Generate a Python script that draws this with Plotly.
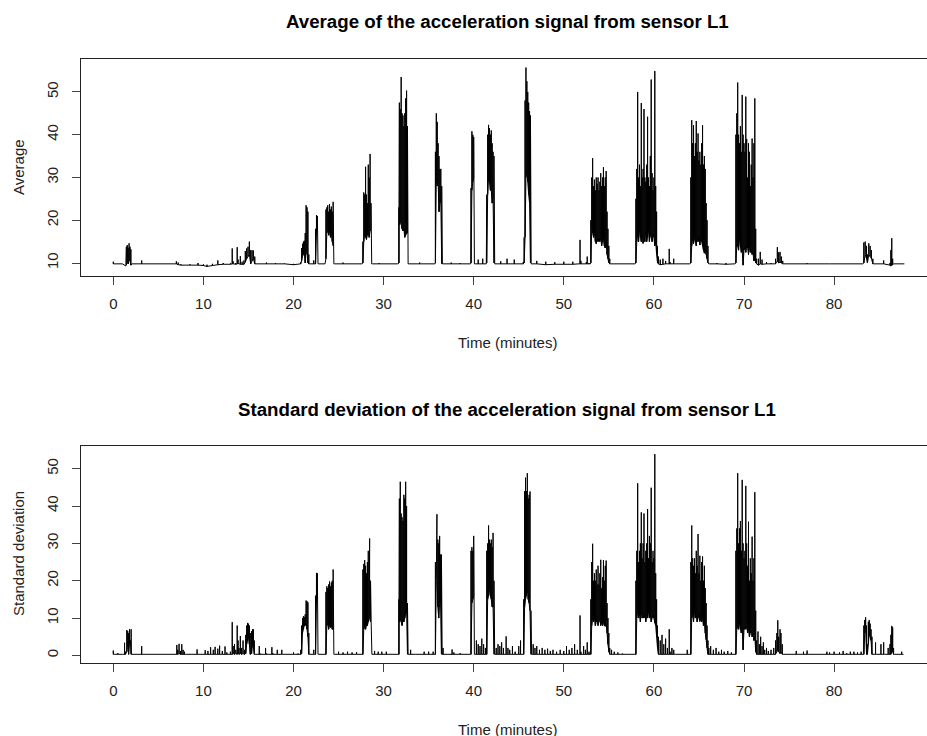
import plotly.graph_objects as go

# ---------------- data ----------------
# Average panel: time (minutes), lower and upper value of the signal at that instant
avg_t = [0.0, 0.3, 1.0, 1.4, 1.45, 1.55, 1.65, 1.75, 1.85, 1.95, 2.05, 3.0, 3.15, 3.3, 4.0,
         6.9, 7.0, 7.2, 7.5, 8.5, 9.4, 10.0, 10.4, 11.0, 11.6, 12.2, 13.0,
         13.2, 13.3, 13.6, 13.75, 13.85, 14.1, 14.3, 14.5, 14.65, 14.8, 14.95, 15.1, 15.25, 15.4, 15.55, 15.7, 15.85,
         17.0, 18.0, 19.0, 20.0, 20.8,
         20.9, 21.0, 21.1, 21.2, 21.3, 21.4, 21.5, 21.6, 21.7, 21.8, 22.25, 22.4,
         22.45, 22.55, 22.65, 22.72, 22.8, 23.5,
         23.6, 23.7, 23.8, 23.9, 24.0, 24.1, 24.2, 24.3, 24.4, 24.48, 24.55, 25.5, 26.5, 27.6,
         27.7, 27.8, 27.9, 28.0, 28.1, 28.2, 28.3, 28.4, 28.5, 28.6, 28.68, 28.75, 29.5, 31.6,
         31.7, 31.75, 31.85, 31.95, 32.05, 32.15, 32.25, 32.35, 32.45, 32.55, 32.65, 32.72, 32.8, 34.0, 35.7,
         35.75, 35.85, 35.95, 36.05, 36.15, 36.25, 36.35, 36.45, 36.52, 37.5, 38.5, 39.65,
         39.7, 39.8, 39.9, 40.0, 40.08, 40.15, 40.5, 41.0, 41.4,
         41.45, 41.55, 41.65, 41.75, 41.85, 41.95, 42.05, 42.15, 42.25, 42.33, 43.0, 43.7, 44.5, 45.5,
         45.6, 45.7, 45.8, 45.9, 46.0, 46.1, 46.2, 46.3, 46.38,
         47.0, 48.0, 49.0, 50.0, 51.0, 51.7, 51.8, 51.9, 52.5, 52.6, 52.8, 52.95,
         53.0, 53.1, 53.2, 53.3, 53.4, 53.5, 53.6, 53.7, 53.8, 53.9, 54.0, 54.1, 54.2, 54.3, 54.4, 54.5,
         54.6, 54.7, 54.8, 54.9, 55.0, 55.1, 55.2, 57.9,
         58.0, 58.1, 58.2, 58.3, 58.4, 58.5, 58.6, 58.7, 58.8, 58.9, 59.0, 59.1, 59.2, 59.3, 59.4, 59.5,
         59.6, 59.7, 59.8, 59.9, 60.0, 60.1, 60.2, 60.3, 60.4, 60.5,
         60.7, 61.0, 61.3, 61.7, 61.8, 62.2, 62.4, 64.0,
         64.1, 64.2, 64.3, 64.4, 64.5, 64.6, 64.7, 64.8, 64.9, 65.0, 65.1, 65.2, 65.3, 65.4, 65.5, 65.6,
         65.7, 65.8, 65.9, 66.0, 66.1, 67.0, 68.0, 69.0,
         69.1, 69.2, 69.3, 69.4, 69.5, 69.6, 69.7, 69.8, 69.9, 70.0, 70.1, 70.2, 70.3, 70.4, 70.5, 70.6,
         70.7, 70.8, 70.9, 71.0, 71.1, 71.2, 71.3, 71.4,
         71.6, 71.8, 72.0, 72.5, 73.0, 73.5, 73.7, 73.85, 74.0, 74.15, 74.3, 74.4,
         77.0, 79.5, 81.0, 83.2,
         83.3, 83.45, 83.6, 83.7, 83.85, 84.0, 84.15, 84.3, 84.4, 85.5, 86.2, 86.3, 86.4, 86.5, 86.6, 87.8]
avg_lo = [9.8, 9.8, 9.8, 9.3, 9.5, 10.5, 9.8, 11.0, 10.5, 9.5, 9.8, 9.8, 9.8, 9.8, 9.8,
          9.8, 9.8, 9.6, 9.5, 9.5, 9.5, 9.4, 9.2, 9.4, 9.6, 9.7, 9.7,
          9.8, 9.8, 9.7, 9.8, 9.9, 9.7, 9.7, 9.7, 10.2, 11.0, 11.5, 12.0, 9.8, 10.5, 11.0, 9.8, 9.8,
          9.8, 9.8, 9.8, 9.6, 9.8,
          10.5, 11.5, 12.0, 12.5, 10.0, 15.0, 12.0, 10.0, 9.8, 9.8, 9.8, 9.8,
          9.8, 17.0, 18.0, 9.8, 9.8, 9.8,
          11.0, 17.0, 18.0, 16.5, 17.5, 16.0, 17.0, 15.0, 14.0, 9.8, 9.8, 9.8, 9.8, 9.8,
          10.0, 15.0, 17.0, 16.0, 15.5, 16.5, 17.0, 16.0, 17.5, 18.0, 9.8, 9.8, 9.8, 9.8,
          10.0, 19.0, 20.0, 19.0, 18.0, 17.5, 18.0, 16.0, 16.5, 17.0, 17.0, 9.8, 9.8, 9.8, 9.8,
          10.0, 30.0, 28.0, 29.0, 22.0, 24.0, 25.0, 9.8, 9.8, 9.8, 9.8, 9.8,
          10.0, 27.0, 29.0, 30.0, 9.8, 9.8, 9.8, 9.8, 9.8,
          10.0, 26.0, 30.0, 29.0, 27.0, 27.0, 24.0, 25.0, 10.0, 9.8, 9.8, 9.8, 9.8, 9.8,
          10.0, 16.0, 30.0, 32.0, 29.0, 26.0, 24.0, 10.0, 9.8,
          9.8, 9.6, 9.7, 9.7, 9.7, 9.8, 9.8, 9.8, 9.8, 9.8, 9.8, 9.8,
          10.0, 18.0, 17.0, 16.0, 17.0, 15.0, 14.5, 16.0, 15.0, 16.0, 15.0, 16.0, 14.0, 15.0, 15.5, 14.0,
          13.5, 16.0, 12.0, 11.0, 10.0, 9.8, 9.8, 9.8,
          10.0, 15.0, 17.0, 15.0, 18.0, 16.0, 15.0, 17.0, 14.6, 16.0, 15.0, 18.0, 15.0, 16.0, 18.0, 15.0,
          17.0, 16.0, 15.0, 17.0, 16.0, 14.0, 15.0, 12.0, 10.0, 9.8,
          9.6, 9.7, 9.8, 9.8, 9.8, 9.8, 9.8, 9.8,
          10.0, 14.0, 16.0, 14.5, 16.0, 15.0, 14.0, 16.0, 15.0, 17.0, 14.2, 16.0, 15.0, 14.0, 13.0, 12.3,
          13.0, 12.0, 11.0, 10.0, 9.8, 9.8, 9.7, 9.8,
          10.0, 13.8, 14.0, 13.0, 16.0, 14.0, 12.5, 13.0, 9.5, 13.0, 14.0, 12.5, 14.0, 13.5, 12.0, 14.0,
          12.5, 13.0, 12.0, 12.3, 10.5, 11.0, 10.0, 9.8,
          9.5, 9.8, 9.7, 9.8, 9.8, 9.8, 10.5, 10.0, 10.2, 10.0, 9.8, 9.8,
          9.8, 9.8, 9.8, 9.8,
          10.0, 12.0, 11.0, 10.0, 12.0, 11.5, 11.0, 9.8, 9.8, 9.8, 9.5, 9.3, 9.5, 9.6, 9.8, 9.8]
avg_hi = [10.3, 9.8, 9.8, 9.8, 13.8, 14.2, 13.5, 14.6, 13.8, 13.2, 9.8, 9.8, 10.6, 9.8, 9.8,
          9.8, 10.4, 10.1, 9.7, 9.7, 10.0, 9.7, 9.6, 9.8, 10.6, 10.0, 9.9,
          13.4, 10.4, 10.0, 13.7, 10.8, 11.6, 10.3, 10.6, 12.8, 13.4, 13.8, 15.0, 13.0, 13.0, 12.9, 11.5, 9.8,
          10.1, 10.0, 9.9, 9.8, 10.2,
          13.5, 14.5, 15.0, 15.2, 17.0, 23.5, 23.0, 22.0, 12.0, 9.8, 10.6, 9.8,
          18.0, 21.2, 21.0, 19.0, 9.8, 9.8,
          22.5, 23.0, 23.5, 22.0, 23.8, 22.5, 23.2, 22.0, 24.3, 20.0, 9.8, 10.1, 9.8, 9.8,
          15.0, 26.5, 26.0, 32.5, 26.0, 24.0, 33.0, 30.0, 35.5, 24.0, 22.0, 9.8, 10.0, 9.8,
          23.0, 47.5, 46.0, 53.5, 45.0, 44.5, 42.0, 45.0, 48.5, 50.3, 42.0, 17.5, 9.8, 10.1, 9.8,
          36.0, 45.0, 43.0, 38.0, 35.0, 32.0, 32.0, 28.0, 9.8, 10.1, 10.0, 9.8,
          27.5, 40.8, 40.0, 39.5, 30.0, 9.8, 10.8, 11.0, 10.5,
          26.0, 40.0, 42.3, 41.5, 40.0, 41.0, 38.0, 36.0, 35.0, 9.8, 10.4, 11.0, 10.8, 10.2,
          16.0, 48.0, 55.7, 52.5, 50.0, 47.5, 45.5, 44.5, 9.8,
          10.5, 10.3, 10.2, 10.3, 10.3, 9.8, 15.4, 10.5, 10.2, 11.5, 10.0, 9.8,
          20.0, 30.0, 34.5, 28.0, 29.5, 27.0, 30.0, 28.5, 30.0, 27.0, 29.0, 31.0, 28.0, 30.0, 32.4, 28.0,
          30.0, 31.5, 22.0, 18.0, 14.0, 11.0, 9.8, 9.8,
          25.0, 32.0, 50.0, 30.0, 33.0, 28.0, 47.4, 30.0, 32.0, 46.0, 30.0, 29.0, 33.0, 44.2, 30.0, 28.0,
          35.0, 52.9, 31.0, 27.0, 30.0, 54.9, 28.0, 22.0, 14.0, 11.5,
          10.8, 11.0, 10.5, 13.3, 10.2, 11.0, 9.8, 9.8,
          30.0, 43.4, 38.0, 42.2, 35.0, 38.0, 43.2, 36.0, 40.3, 34.0, 36.0, 33.0, 38.0, 42.2, 33.0, 35.0,
          32.0, 24.0, 20.0, 14.0, 9.8, 10.0, 10.0, 9.8,
          40.0, 45.0, 52.2, 40.0, 38.0, 42.0, 36.0, 49.3, 40.0, 38.0, 36.0, 48.9, 39.0, 30.0, 38.0, 36.0,
          28.0, 33.0, 39.1, 30.0, 38.0, 48.5, 18.0, 11.0,
          11.0, 12.6, 10.8, 10.2, 10.0, 11.0, 13.7, 12.5, 12.6, 11.5, 10.5, 9.8,
          10.0, 9.8, 9.9, 9.8,
          14.8, 15.0, 14.0, 12.0, 14.6, 14.0, 13.0, 11.0, 9.8, 10.6, 10.0, 13.0, 15.8, 11.0, 9.8, 9.8]

# Standard deviation panel: time (minutes), lower and upper value at that instant
sd_t = [0.0, 0.1, 0.5, 1.0, 1.25, 1.35, 1.5, 1.6, 1.7, 1.8, 1.9, 1.98, 2.05, 3.05, 3.15, 3.3,
        7.0, 7.05, 7.15, 7.3, 7.45, 7.6, 7.75, 7.9, 8.1, 9.3, 9.4,
        10.2, 10.5, 10.8, 11.1, 11.3, 11.6, 11.8, 12.1, 12.4, 12.6, 13.0,
        13.2, 13.3, 13.45, 13.6, 13.75, 13.85, 13.95, 14.1, 14.25, 14.4, 14.55, 14.7, 14.8, 14.9, 15.0,
        15.1, 15.2, 15.35, 15.45, 15.55, 15.65, 15.75,
        16.2, 16.3, 16.9, 17.0, 17.6, 17.7, 18.2, 18.7, 18.8, 20.0, 20.5, 20.8,
        20.9, 21.0, 21.1, 21.2, 21.3, 21.4, 21.5, 21.6, 21.7, 21.8, 22.25, 22.35,
        22.45, 22.55, 22.65, 22.72, 22.8, 23.55,
        23.6, 23.7, 23.8, 23.9, 24.0, 24.1, 24.2, 24.3, 24.4, 24.48, 24.55,
        25.0, 25.5, 26.0, 26.5, 27.0, 27.6,
        27.7, 27.8, 27.9, 28.0, 28.1, 28.2, 28.3, 28.4, 28.45, 28.55, 28.62, 28.7,
        29.0, 29.4, 29.8, 30.3, 31.6,
        31.7, 31.75, 31.85, 31.95, 32.05, 32.15, 32.25, 32.35, 32.45, 32.55, 32.65, 32.72,
        33.0, 33.5, 34.5, 35.0, 35.5, 35.7,
        35.75, 35.85, 35.92, 36.02, 36.12, 36.22, 36.32, 36.42, 36.5, 36.6, 36.7, 37.6, 37.8, 38.5, 39.65,
        39.7, 39.8, 39.9, 40.0, 40.08, 40.15, 40.3, 40.5, 40.7, 40.9, 41.1, 41.3,
        41.45, 41.55, 41.65, 41.75, 41.85, 41.95, 42.05, 42.15, 42.25, 42.33,
        42.5, 42.7, 42.9, 43.1, 43.3, 43.6, 43.8, 44.0, 44.3, 44.6, 45.0, 45.2, 45.5,
        45.55, 45.65, 45.75, 45.85, 45.95, 46.05, 46.15, 46.25, 46.35, 46.42,
        46.6, 46.8, 47.0, 47.3, 47.6, 47.9, 48.2, 48.5, 48.8, 49.2, 49.6, 50.0, 50.3, 50.6, 50.9, 51.2,
        51.5, 51.7, 51.8, 51.9, 52.2, 52.4, 52.6, 52.8, 52.95,
        53.0, 53.1, 53.2, 53.3, 53.4, 53.5, 53.6, 53.7, 53.8, 53.9, 54.0, 54.1, 54.2, 54.3, 54.4, 54.5,
        54.6, 54.7, 54.8, 54.9, 55.0, 55.1, 55.3, 55.6, 56.0, 56.5, 57.9,
        58.0, 58.1, 58.2, 58.3, 58.4, 58.5, 58.6, 58.7, 58.8, 58.9, 59.0, 59.1, 59.2, 59.3, 59.4, 59.5,
        59.6, 59.7, 59.8, 59.9, 60.0, 60.1, 60.2, 60.3, 60.4, 60.5,
        60.7, 60.9, 61.1, 61.3, 61.5, 61.7, 61.8, 62.0, 62.2, 62.4, 63.0, 63.7, 64.0,
        64.1, 64.2, 64.3, 64.4, 64.5, 64.6, 64.7, 64.8, 64.9, 65.0, 65.1, 65.2, 65.3, 65.4, 65.5, 65.6,
        65.7, 65.8, 65.9, 66.0, 66.1, 66.3, 66.6, 66.9, 67.2, 67.5, 67.8, 68.2, 68.6, 69.0,
        69.1, 69.2, 69.3, 69.4, 69.5, 69.6, 69.7, 69.8, 69.9, 70.0, 70.1, 70.2, 70.3, 70.4, 70.5, 70.6,
        70.7, 70.8, 70.9, 71.0, 71.1, 71.2, 71.3, 71.4,
        71.55, 71.7, 71.85, 72.0, 72.15, 72.3, 72.5, 72.7, 73.0, 73.3,
        73.5, 73.65, 73.75, 73.85, 74.0, 74.1, 74.25, 74.35,
        75.8, 76.6, 77.0, 77.2, 79.2, 79.5, 80.0, 80.6, 81.0, 81.4, 81.8, 82.2, 82.6, 83.0, 83.25,
        83.3, 83.4, 83.5, 83.6, 83.7, 83.8, 83.9, 84.0, 84.1, 84.2, 84.3,
        84.6, 84.7, 85.2, 85.3, 85.5, 85.6, 86.0, 86.2, 86.3, 86.4, 86.5, 86.6, 86.7, 87.5, 87.7]
sd_lo = [0.3, 0.3, 0.3, 0.3, 0.3, 0.3, 1.0, 4.0, 0.3, 3.0, 4.0, 0.3, 0.3, 0.3, 0.3, 0.3,
         0.3, 0.3, 0.3, 0.5, 0.3, 0.3, 0.3, 0.3, 0.3, 0.3, 0.3,
         0.3, 0.3, 0.3, 0.3, 0.3, 0.3, 0.3, 0.3, 0.3, 0.3, 0.3,
         0.3, 0.5, 0.3, 0.5, 0.3, 1.0, 0.3, 0.5, 0.3, 0.5, 0.3, 0.5, 3.0, 4.0, 5.0,
         3.0, 0.3, 0.5, 3.0, 2.0, 0.3, 0.3,
         0.3, 0.3, 0.3, 0.3, 0.3, 0.3, 0.3, 0.3, 0.3, 0.3, 0.3, 0.3,
         0.5, 6.0, 7.0, 8.0, 8.0, 9.0, 7.0, 5.0, 0.3, 0.3, 0.3, 0.3,
         0.3, 14.0, 16.0, 0.3, 0.3, 0.3,
         0.3, 8.0, 8.5, 7.0, 8.0, 7.5, 8.0, 7.0, 7.0, 0.3, 0.3,
         0.3, 0.3, 0.3, 0.3, 0.3, 0.3,
         0.3, 7.0, 7.5, 7.0, 8.0, 8.0, 9.0, 10.0, 10.0, 9.0, 9.0, 0.3,
         0.3, 0.3, 0.3, 0.3, 0.3,
         0.3, 9.0, 10.0, 9.0, 8.0, 10.0, 9.0, 10.0, 11.0, 12.0, 0.3, 0.3,
         0.3, 0.3, 0.3, 0.3, 0.3, 0.3,
         0.3, 20.0, 22.0, 13.0, 10.0, 14.0, 14.0, 0.3, 0.3, 0.3, 0.3, 0.3, 0.3, 0.3, 0.3,
         0.3, 14.0, 15.0, 16.0, 0.3, 0.3, 0.3, 0.3, 0.3, 0.3, 0.3, 0.3,
         0.3, 15.0, 16.0, 18.0, 16.0, 15.0, 13.0, 13.0, 0.3, 0.3,
         0.3, 0.3, 0.3, 0.3, 0.3, 0.3, 0.3, 0.3, 0.3, 0.3, 0.3, 0.3, 0.3,
         0.3, 13.0, 15.0, 16.0, 18.0, 15.0, 14.0, 12.0, 0.3, 0.3,
         0.3, 0.3, 0.3, 0.3, 0.3, 0.3, 0.3, 0.3, 0.3, 0.3, 0.3, 0.3, 0.3, 0.3, 0.3, 0.3,
         0.3, 0.3, 0.3, 0.3, 0.3, 0.3, 0.3, 0.3, 0.3,
         0.3, 8.0, 10.0, 9.0, 10.0, 8.0, 9.0, 10.0, 8.0, 9.0, 10.0, 8.0, 9.0, 8.0, 9.0, 8.0,
         7.8, 9.0, 6.0, 3.0, 1.0, 0.3, 0.3, 0.3, 0.3, 0.3, 0.3,
         0.3, 10.0, 12.0, 10.0, 11.0, 9.0, 12.0, 10.0, 11.0, 10.0, 12.0, 9.0, 11.0, 10.0, 12.0, 10.0,
         11.0, 9.0, 10.0, 11.0, 10.0, 8.7, 8.0, 5.0, 2.0, 0.3,
         0.3, 0.3, 0.3, 0.3, 0.3, 0.3, 0.3, 0.3, 0.3, 0.3, 0.3, 0.3, 0.3,
         0.3, 10.0, 11.0, 9.0, 12.0, 10.0, 11.0, 9.0, 10.0, 12.0, 9.1, 10.0, 9.0, 10.0, 8.0, 9.0,
         6.0, 4.2, 2.0, 0.3, 0.3, 0.3, 0.3, 0.3, 0.3, 0.3, 0.3, 0.3, 0.3, 0.3,
         0.3, 7.0, 8.0, 7.0, 9.0, 7.0, 6.0, 8.0, 1.5, 6.9, 8.0, 7.0, 8.0, 6.0, 7.0, 5.0,
         6.0, 7.0, 5.0, 6.0, 4.0, 5.0, 1.0, 0.3,
         0.3, 0.3, 0.3, 0.3, 0.3, 0.3, 0.3, 0.3, 0.3, 0.3,
         0.3, 1.0, 2.0, 1.0, 0.5, 1.0, 0.3, 0.3,
         0.3, 0.3, 0.3, 0.3, 0.3, 0.3, 0.3, 0.3, 0.3, 0.3, 0.3, 0.3, 0.3, 0.3, 0.3,
         0.3, 6.0, 7.0, 0.3, 0.3, 3.0, 6.0, 5.0, 4.0, 0.3, 0.3,
         0.3, 0.3, 0.3, 0.3, 0.3, 0.3, 0.3, 0.3, 0.3, 1.0, 1.0, 0.3, 0.3, 0.3, 0.3]
sd_hi = [1.3, 0.3, 0.6, 0.3, 3.4, 1.0, 6.8, 6.5, 6.0, 7.0, 6.5, 7.0, 0.3, 0.3, 2.5, 0.3,
         0.3, 2.8, 1.5, 3.1, 1.2, 3.0, 1.5, 1.0, 0.3, 1.6, 0.3,
         1.4, 1.2, 2.2, 1.5, 2.3, 1.8, 2.6, 1.2, 2.4, 0.8, 1.0,
         8.9, 2.5, 3.0, 1.5, 8.0, 4.0, 2.0, 5.2, 2.0, 4.0, 1.5, 5.5, 8.0, 8.7, 8.5,
         8.0, 6.0, 6.5, 7.0, 7.0, 4.0, 0.3,
         2.5, 0.5, 2.0, 0.5, 2.2, 0.6, 1.5, 1.5, 0.3, 0.8, 0.5, 1.5,
         8.0, 10.0, 10.5, 10.3, 11.0, 14.7, 14.5, 14.2, 6.0, 0.3, 1.5, 0.3,
         16.0, 22.1, 22.0, 21.0, 0.3, 0.3,
         17.0, 18.5, 18.0, 19.0, 19.8, 18.5, 19.5, 20.0, 23.0, 12.0, 0.3,
         1.0, 0.8, 1.0, 0.8, 0.9, 0.3,
         23.0, 24.5, 25.5, 24.0, 22.0, 25.0, 28.0, 27.0, 31.3, 20.0, 17.5, 0.3,
         1.2, 1.0, 1.0, 1.0, 0.3,
         15.0, 42.0, 46.5, 38.0, 37.0, 36.0, 43.0, 42.0, 46.5, 40.0, 14.0, 0.3,
         1.5, 0.3, 1.0, 1.0, 1.0, 0.3,
         25.0, 31.0, 37.8, 31.0, 30.0, 32.0, 27.0, 27.0, 0.3, 2.0, 0.3, 1.6, 0.8, 0.6, 0.3,
         28.0, 29.0, 28.0, 32.0, 20.0, 0.3, 4.0, 3.0, 2.5, 4.5, 3.0, 2.0,
         28.0, 30.0, 34.8, 31.0, 30.0, 31.0, 29.0, 32.8, 20.0, 0.3,
         2.0, 3.0, 2.5, 3.5, 2.0, 5.1, 2.0, 1.5, 2.5, 1.0, 2.5, 4.0, 0.3,
         15.0, 44.0, 47.6, 44.0, 48.8, 42.0, 43.0, 43.9, 12.0, 0.3,
         3.0, 2.0, 2.5, 1.5, 2.0, 1.5, 1.8, 1.2, 1.5, 1.0, 1.5, 1.2, 2.5, 1.5, 2.0, 3.0,
         1.5, 0.3, 10.7, 1.0, 2.5, 1.5, 3.5, 1.0, 0.3,
         15.0, 25.0, 29.9, 20.0, 22.0, 20.0, 23.0, 19.0, 24.0, 19.0, 22.0, 25.6, 18.0, 21.0, 25.5, 20.0,
         24.0, 25.4, 14.0, 10.0, 6.0, 2.0, 1.5, 1.0, 0.8, 0.5, 0.3,
         20.0, 28.0, 46.1, 25.0, 28.0, 30.0, 38.3, 26.0, 30.0, 38.0, 25.0, 28.0, 30.0, 39.2, 26.0, 32.0,
         30.0, 44.9, 25.0, 28.0, 26.0, 53.9, 22.0, 15.0, 8.0, 5.0,
         4.0, 5.5, 3.0, 4.5, 2.0, 7.0, 1.0, 2.0, 1.5, 0.3, 0.5, 1.5, 0.3,
         25.0, 34.8, 26.0, 24.0, 26.0, 22.0, 28.0, 24.0, 32.5, 22.0, 26.7, 20.0, 25.0, 26.5, 20.0, 24.0,
         18.0, 14.0, 8.0, 4.0, 2.0, 2.5, 1.5, 2.0, 1.0, 1.5, 1.0, 1.2, 0.8, 0.3,
         28.0, 34.0, 48.8, 30.0, 34.0, 36.0, 28.0, 47.0, 30.0, 26.0, 28.0, 45.4, 30.0, 24.0, 35.8, 20.0,
         26.0, 22.0, 31.8, 20.0, 26.0, 43.7, 12.0, 4.0,
         6.4, 3.0, 5.0, 2.5, 3.5, 1.5, 2.0, 1.2, 1.5, 2.0,
         4.0, 6.0, 9.4, 5.0, 7.0, 6.0, 3.0, 0.3,
         1.2, 1.0, 1.3, 0.3, 1.0, 0.8, 1.0, 0.8, 1.2, 0.6, 1.0, 1.0, 0.8, 1.0, 0.3,
         8.0, 9.5, 10.2, 8.0, 3.0, 9.0, 9.5, 8.5, 7.0, 5.0, 0.3,
         3.5, 0.3, 3.0, 0.3, 3.5, 0.3, 2.0, 3.0, 5.5, 7.9, 7.5, 2.0, 0.3, 1.0, 0.3]

x_ticks = [0, 10, 20, 30, 40, 50, 60, 70, 80]
avg_ticks = [10, 20, 30, 40, 50]
sd_ticks = [0, 10, 20, 30, 40, 50]

title_avg = "Average of the acceleration signal from sensor L1"
title_sd = "Standard deviation of the acceleration signal from sensor L1"
xlabel = "Time (minutes)"
ylabel_avg = "Average"
ylabel_sd = "Standard deviation"

# ---------------- figure ----------------
W, H = 927, 736
FONT = "Liberation Sans, Arial, Helvetica, sans-serif"


def signal_path(t, lo, hi):
    # each sample is drawn as a vertical stroke lo -> hi -> lo
    xs, ys = [], []
    for a, b, c in zip(t, lo, hi):
        xs.extend([a, a, a])
        ys.extend([b, c, b])
    return xs, ys


xa, ya = signal_path(avg_t, avg_lo, avg_hi)
xs_, ys_ = signal_path(sd_t, sd_lo, sd_hi)

fig = go.Figure()
fig.add_trace(go.Scatter(x=xa, y=ya, mode="lines", line=dict(color="black", width=1),
                         xaxis="x", yaxis="y", hoverinfo="skip", showlegend=False))
fig.add_trace(go.Scatter(x=xs_, y=ys_, mode="lines", line=dict(color="black", width=1),
                         xaxis="x2", yaxis="y2", hoverinfo="skip", showlegend=False))

common = dict(showgrid=False, zeroline=False, showline=True, linecolor="#222", linewidth=1,
              ticks="outside", ticklen=8, tickwidth=1, tickcolor="#444",
              tickfont=dict(family=FONT, size=15, color="#222"))

xr = [(81 - 113.3) / 9.01, (927 - 113.3) / 9.01]

fig.update_layout(
    width=W, height=H, margin=dict(l=0, r=0, t=0, b=0),
    paper_bgcolor="white", plot_bgcolor="white", showlegend=False,
    xaxis=dict(domain=[81 / W, 1], range=xr, tickvals=x_ticks, anchor="y", mirror=True,
               ticklabelstandoff=6, **common),
    yaxis=dict(domain=[1 - 276 / H, 1 - 59 / H], range=[6.96, 57.7], tickvals=avg_ticks,
               tickangle=-90, anchor="x", ticklabelstandoff=8, **common),
    xaxis2=dict(domain=[81 / W, 1], range=xr, tickvals=x_ticks, anchor="y2", mirror=True,
                ticklabelstandoff=6, **common),
    yaxis2=dict(domain=[1 - 663 / H, 1 - 446 / H], range=[-2.03, 56.07], tickvals=sd_ticks,
                tickangle=-90, anchor="x2", ticklabelstandoff=8, **common),
)


def txt(text, px, py, size=15, bold=False, angle=0):
    fig.add_annotation(text=f"<b>{text}</b>" if bold else text, x=px / W, y=1 - py / H,
                       xref="paper", yref="paper", xanchor="center", yanchor="middle",
                       showarrow=False, textangle=angle,
                       font=dict(family=FONT, size=size, color="black" if bold else "#222"))


txt(title_avg, 507, 22, size=18.7, bold=True)
txt(title_sd, 507, 409, size=18.7, bold=True)
txt(xlabel, 507, 342)
txt(xlabel, 507, 729)
txt(ylabel_avg, 18, 167, angle=-90)
txt(ylabel_sd, 18, 554, angle=-90)

fig.write_html("out.html")
